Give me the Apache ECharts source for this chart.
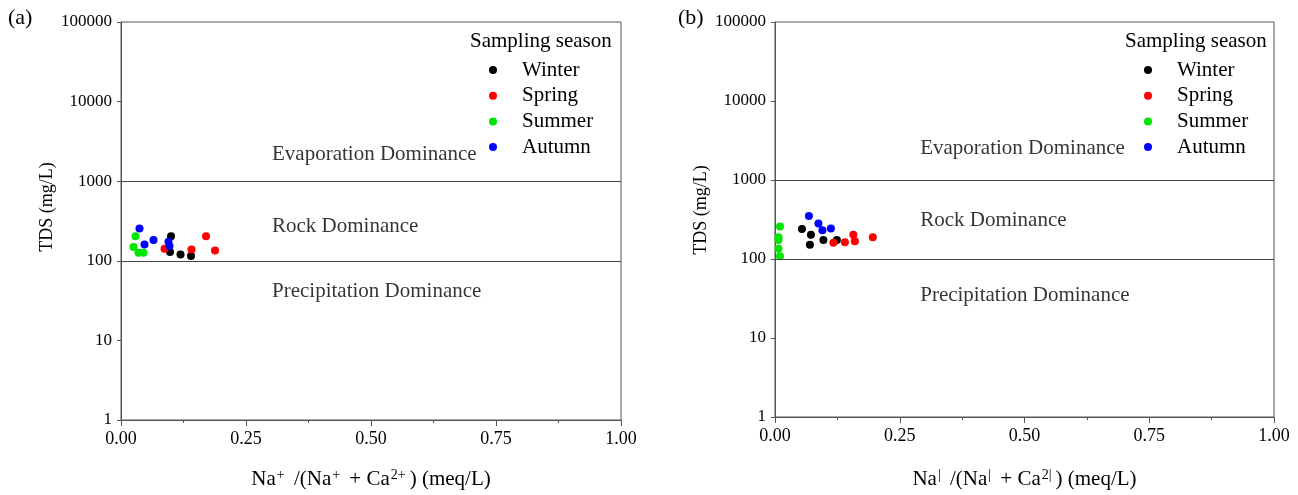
<!DOCTYPE html>
<html>
<head>
<meta charset="utf-8">
<script src="https://cdn.jsdelivr.net/npm/echarts@6/dist/echarts.min.js"></script>
<style>html,body{margin:0;padding:0;background:#fff}#c{width:1298px;height:495px}</style>
</head>
<body>
<div id="c"></div>
<script>
// ---- data ----
const seasons = ['Winter', 'Spring', 'Summer', 'Autumn'];
const seasonColors = ['#000000', '#ff0000', '#00e600', '#0000ff'];
const boundaries = [100, 1000];
const xTicks = [0, 0.25, 0.5, 0.75, 1.0];

// panel (a): [Na/(Na+Ca), TDS]
const aWinter = [[0.100, 204], [0.098, 129], [0.119, 120], [0.140, 115]];
const aSpring = [[0.170, 204], [0.188, 135], [0.141, 139], [0.087, 142]];
const aSummer = [[0.029, 204], [0.025, 149], [0.035, 126], [0.045, 126]];
const aAutumn = [[0.037, 254], [0.065, 182], [0.047, 160], [0.095, 173], [0.097, 153]];

// panel (b)
const bWinter = [[0.054, 239], [0.072, 203], [0.070, 152], [0.097, 174], [0.124, 174]];
const bSpring = [[0.117, 160], [0.140, 163], [0.157, 203], [0.160, 168], [0.196, 188]];
const bSummer = [[0.010, 258], [0.007, 188], [0.007, 174], [0.007, 135], [0.010, 108]];
const bAutumn = [[0.068, 349], [0.087, 281], [0.095, 232], [0.112, 243]];

// region annotations [x, TDS, text]
const aRegions = [[0.302, 2154, 'Evaporation Dominance'], [0.302, 266, 'Rock Dominance'], [0.302, 41.4, 'Precipitation Dominance']];
const bRegions = [[0.291, 2502, 'Evaporation Dominance'], [0.291, 309, 'Rock Dominance'], [0.291, 35, 'Precipitation Dominance']];

// ---- chart ----
const FONT = 'Liberation Serif';
const AX = '#555';
const panelData = [[aWinter, aSpring, aSummer, aAutumn], [bWinter, bSpring, bSummer, bAutumn]];
const panelRegions = [aRegions, bRegions];
const supChar = ['+', '|'];

function xAxisFor(i) {
  const s = supChar[i];
  return {
    type: 'value', gridIndex: i, min: 0, max: 1, interval: 0.25,
    axisLine: { show: true, lineStyle: { color: AX, width: 1 } },
    axisTick: { show: true, length: 6, lineStyle: { color: AX } },
    minorTick: { show: true, splitNumber: 2, length: 3, lineStyle: { color: AX } },
    splitLine: { show: false },
    axisLabel: { color: '#000', fontFamily: FONT, fontSize: 18, margin: 10,
      formatter: v => v.toFixed(2) },
    name: 'Na{s|' + s + '} /(Na{s|' + s + '} + Ca{s|2' + s + '}) (meq/L)',
    nameLocation: 'middle', nameGap: i === 0 ? 48 : 51,
    nameTextStyle: { color: '#000', fontFamily: FONT, fontSize: 21,
      rich: { s: { fontFamily: FONT, fontSize: 14, verticalAlign: 'top', padding: [0, 4, 9, 1], color: '#000' } } }
  };
}
function yAxisFor(i) {
  return {
    type: 'log', logBase: 10, gridIndex: i, min: 1, max: 100000, interval: 1,
    axisLine: { show: true, lineStyle: { color: AX, width: 1 } },
    axisTick: { show: true, length: 4, lineStyle: { color: AX } },
    splitLine: { show: false },
    axisLabel: { color: '#000', fontFamily: FONT, fontSize: 17, margin: 9,
      formatter: v => String(Math.round(v)) }
  };
}

const series = [];
[0, 1].forEach(p => {
  series.push({
    type: 'line', xAxisIndex: p, yAxisIndex: p, data: [], silent: true,
    markLine: { silent: true, symbol: ['none', 'none'], label: { show: false },
      lineStyle: { color: '#444', width: 1, type: 'solid' },
      data: boundaries.map(b => ({ yAxis: b })) }
  });
  series.push({
    type: 'scatter', xAxisIndex: p, yAxisIndex: p, symbolSize: 0, silent: true,
    data: panelRegions[p],
    label: { show: true, position: 'right', distance: 0, formatter: d => d.value[2],
      color: '#000', fontFamily: FONT, fontSize: 21 }
  });
  seasons.forEach((s, k) => {
    series.push({
      name: s, type: 'scatter', xAxisIndex: p, yAxisIndex: p,
      symbol: 'circle', symbolSize: 8, data: panelData[p][k],
      itemStyle: { color: seasonColors[k], opacity: 1 }
    });
  });
});

function legendFor(left) {
  return {
    data: seasons, orient: 'vertical', left: left, top: 59.5, padding: 0,
    itemWidth: 24, itemHeight: 8, itemGap: 4.7, icon: 'circle',
    textStyle: { color: '#000', fontFamily: FONT, fontSize: 21, lineHeight: 20, padding: [0, 0, 0, 12] },
    selectedMode: false
  };
}

const option = {
  animation: false,
  backgroundColor: '#fff',
  grid: [
    { left: 121, top: 22, width: 500, height: 402, show: true, borderColor: AX, borderWidth: 1 },
    { left: 775, top: 22, width: 499, height: 404, show: true, borderColor: AX, borderWidth: 1 }
  ],
  xAxis: [xAxisFor(0), xAxisFor(1)],
  yAxis: [yAxisFor(0), yAxisFor(1)],
  legend: [legendFor(489), legendFor(1144)],
  title: [
    { text: 'Sampling season', left: 470, top: 31, padding: 0,
      textStyle: { color: '#000', fontFamily: FONT, fontSize: 21, fontWeight: 'normal' } },
    { text: 'Sampling season', left: 1125, top: 31, padding: 0,
      textStyle: { color: '#000', fontFamily: FONT, fontSize: 21, fontWeight: 'normal' } },
    { text: '(a)', left: 8, top: 7, padding: 0,
      textStyle: { color: '#000', fontFamily: FONT, fontSize: 22, fontWeight: 'normal' } },
    { text: '(b)', left: 678, top: 7, padding: 0,
      textStyle: { color: '#000', fontFamily: FONT, fontSize: 22, fontWeight: 'normal' } }
  ],
  graphic: [
    { type: 'text', x: 47, y: 207, rotation: Math.PI / 2,
      style: { text: 'TDS (mg/L)', fill: '#000', font: '18px "Liberation Serif"', textAlign: 'center', textVerticalAlign: 'middle' } },
    { type: 'text', x: 701, y: 210, rotation: Math.PI / 2,
      style: { text: 'TDS (mg/L)', fill: '#000', font: '18px "Liberation Serif"', textAlign: 'center', textVerticalAlign: 'middle' } }
  ],
  series: series
};

const chart = echarts.init(document.getElementById('c'), null, { renderer: 'canvas' });
chart.setOption(option);
</script>
</body>
</html>
